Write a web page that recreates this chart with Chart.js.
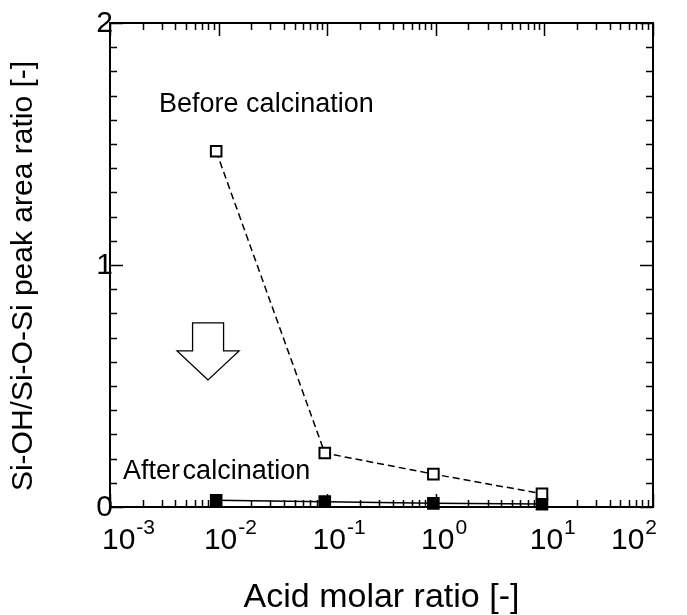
<!DOCTYPE html>
<html><head><meta charset="utf-8">
<script src="https://cdn.jsdelivr.net/npm/chart.js@4"></script>
<style>html,body{margin:0;padding:0;background:#fff}#wrap{width:687px;height:615px}</style>
</head><body><div id="wrap"><canvas id="c" width="687" height="615"></canvas></div>
<script>
// ---- data ----
const acidRatio = [0.0095, 0.095, 0.95, 9.5];
const beforeCalcination = [1.47, 0.223, 0.136, 0.055];
const afterCalcination = [0.028, 0.022, 0.015, 0.012];
const xExponents = [-3, -2, -1, 0, 1, 2];
const yMajorTicks = [0, 1, 2];
const seriesNames = ['Before calcination', 'After calcination'];
const yAxisTitle = 'Si-OH/Si-O-Si peak area ratio [-]';
const xAxisTitle = 'Acid molar ratio [-]';
const labelAnchors = [[0.00283, 1.632], [0.00132, 0.116]]; // data coords of annotation text (start, baseline)
const arrowTip = [0.008, 0.525];

const FONT = "'Liberation Sans', Arial, sans-serif";

const framePlugin = {
  id: 'frame',
  beforeDatasetsDraw(chart) {
    const {ctx, chartArea: a, scales: {x, y}} = chart;
    ctx.save();
    ctx.strokeStyle = '#000';
    ctx.lineWidth = 2;
    ctx.strokeRect(a.left, a.top, a.right - a.left, a.bottom - a.top);
    ctx.lineWidth = 1.5;
    ctx.beginPath();
    for (let e = -3; e <= 2; e++) {
      for (let m = 1; m <= 9; m++) {
        if (e === 2 && m > 1) break;
        const px = Math.round(x.getPixelForValue(m * Math.pow(10, e))) + 0.5;
        const len = m === 1 ? 13 : 7;
        ctx.moveTo(px, a.bottom); ctx.lineTo(px, a.bottom - len);
        ctx.moveTo(px, a.top); ctx.lineTo(px, a.top + len);
      }
    }
    for (let i = 0; i <= 20; i++) {
      const py = Math.round(y.getPixelForValue(i / 10)) + 0.5;
      const len = i % 10 === 0 ? 13 : 7;
      ctx.moveTo(a.left, py); ctx.lineTo(a.left + len, py);
      ctx.moveTo(a.right, py); ctx.lineTo(a.right - len, py);
    }
    ctx.stroke();
    ctx.restore();
  },
  afterDraw(chart) {
    const {ctx, chartArea: a, scales: {x, y}} = chart;
    ctx.save();
    ctx.fillStyle = '#000';
    // y axis title
    ctx.save();
    ctx.translate(24, (a.top + a.bottom) / 2 + 11);
    ctx.rotate(-Math.PI / 2);
    ctx.font = '30px ' + FONT;
    ctx.textAlign = 'center';
    ctx.textBaseline = 'middle';
    ctx.fillText(yAxisTitle, 0, 0);
    ctx.restore();
    // y tick labels
    ctx.font = '30px ' + FONT;
    ctx.textAlign = 'right';
    ctx.textBaseline = 'middle';
    yMajorTicks.forEach(v => {
      ctx.fillText(String(v), a.left + 3, y.getPixelForValue(v) + 1);
    });
    // x tick labels with superscript exponents
    ctx.textAlign = 'left';
    ctx.textBaseline = 'alphabetic';
    xExponents.forEach(e => {
      const px = x.getPixelForValue(Math.pow(10, e));
      ctx.font = '30px ' + FONT;
      const base = '10';
      const wb = ctx.measureText(base).width;
      ctx.font = '21px ' + FONT;
      const we = ctx.measureText(String(e)).width;
      let start = px - wb / 2 + 2;
      start = Math.max(start, a.left - 8);
      start = Math.min(start, a.right + 4 - wb - we - 1);
      ctx.font = '30px ' + FONT;
      ctx.fillText(base, start, 549);
      ctx.font = '21px ' + FONT;
      ctx.fillText(String(e), start + wb + 1, 534);
    });
    ctx.font = '27px ' + FONT;
    seriesNames.forEach((t, i) => {
      const [vx, vy] = labelAnchors[i];
      if (i === 1 && 'wordSpacing' in ctx) ctx.wordSpacing = '-5px';
      ctx.fillText(t, x.getPixelForValue(vx), y.getPixelForValue(vy));
      if ('wordSpacing' in ctx) ctx.wordSpacing = '0px';
    });
    const tx = x.getPixelForValue(arrowTip[0]);
    const ty = y.getPixelForValue(arrowTip[1]);
    ctx.beginPath();
    ctx.moveTo(tx, ty);
    ctx.lineTo(tx - 31, ty - 29);
    ctx.lineTo(tx - 15.5, ty - 29);
    ctx.lineTo(tx - 15.5, ty - 57);
    ctx.lineTo(tx + 15.5, ty - 57);
    ctx.lineTo(tx + 15.5, ty - 29);
    ctx.lineTo(tx + 31, ty - 29);
    ctx.closePath();
    ctx.fillStyle = '#fff';
    ctx.fill();
    ctx.lineWidth = 1.3;
    ctx.strokeStyle = '#000';
    ctx.stroke();
    ctx.restore();
  }
};

new Chart(document.getElementById('c'), {
  type: 'line',
  data: {
    datasets: [
      {
        label: seriesNames[0],
        data: acidRatio.map((v, i) => ({x: v, y: beforeCalcination[i]})),
        borderColor: '#000', borderWidth: 1.5, borderDash: [7, 4],
        pointStyle: 'rect', pointRadius: 7.5, pointBorderWidth: 2,
        pointBackgroundColor: '#fff', pointBorderColor: '#000',
        fill: false, tension: 0, clip: false
      },
      {
        label: seriesNames[1],
        data: acidRatio.map((v, i) => ({x: v, y: afterCalcination[i]})),
        borderColor: '#000', borderWidth: 1.5,
        pointStyle: 'rect', pointRadius: 7.5, pointBorderWidth: 2,
        pointBackgroundColor: '#000', pointBorderColor: '#000',
        fill: false, tension: 0, clip: false
      }
    ]
  },
  options: {
    responsive: false,
    animation: false,
    devicePixelRatio: 1,
    layout: {padding: {left: 0, top: 23, right: 34, bottom: 0}},
    plugins: {legend: {display: false}, tooltip: {enabled: false}},
    scales: {
      x: {
        type: 'logarithmic', min: 0.001, max: 100,
        grid: {display: false, drawTicks: false}, border: {display: false},
        ticks: {display: false},
        title: {display: true, text: xAxisTitle, color: '#000',
          font: {family: FONT, size: 34}, padding: {top: 0, bottom: -3}},
        afterFit(s) { s.height = 108; }
      },
      y: {
        type: 'linear', min: 0, max: 2,
        grid: {display: false, drawTicks: false}, border: {display: false},
        ticks: {display: false},
        title: {display: false, text: yAxisTitle},
        afterFit(s) { s.width = 110; }
      }
    }
  },
  plugins: [framePlugin]
});
</script></body></html>
